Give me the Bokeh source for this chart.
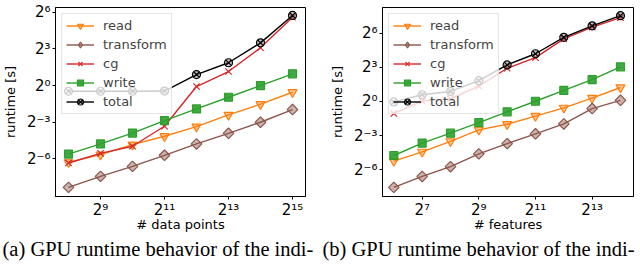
from bokeh.plotting import figure
from bokeh.models import Range1d, FixedTicker, Legend, LegendItem, Title
from bokeh.layouts import row
from bokeh.embed import file_html
from bokeh.resources import INLINE

# ---- data (runtime in seconds) ----
data_points = [256, 512, 1024, 2048, 4096, 8192, 16384, 32768]
a_read = [0.01269, 0.01964, 0.03468, 0.05594, 0.09672, 0.1882, 0.3464, 0.6830]
a_transform = [0.003065, 0.005719, 0.010097, 0.01897, 0.03615, 0.06606, 0.1241, 0.2553]
a_cg = [0.01226, 0.02120, 0.03169, 0.09875, 0.9461, 2.219, 8.574, 48.50]
a_write = [0.02033, 0.03615, 0.06699, 0.1358, 0.2643, 0.5141, 1.000, 1.945]
a_total = [0.7219, 0.7219, 0.7219, 0.7320, 1.866, 3.655, 11.31, 53.82]

features = [64, 128, 256, 512, 1024, 2048, 4096, 8192, 16384]
b_read = [0.02664, 0.04671, 0.08839, 0.1780, 0.2500, 0.4118, 0.6783, 1.231, 2.346]
b_transform = [0.005373, 0.010453, 0.01897, 0.04124, 0.07695, 0.1397, 0.2553, 0.6507, 1.072]
b_cg = [0.4830, 1.028, 1.181, 2.532, 7.568, 14.42, 44.94, 92.41, 164.3]
b_write = [0.03742, 0.07966, 0.1456, 0.2755, 0.5322, 1.014, 1.959, 3.784, 8.225]
b_total = [0.9727, 1.505, 1.840, 3.555, 9.254, 18.25, 49.52, 99.73, 184.8]

series_names = ["read", "transform", "cg", "write", "total"]

a_xticks = [512, 2048, 8192, 32768]
a_xtick_labels = ["2⁹", "2¹¹", "2¹³", "2¹⁵"]
b_xticks = [128, 512, 2048, 8192]
b_xtick_labels = ["2⁷", "2⁹", "2¹¹", "2¹³"]
yticks = [0.015625, 0.125, 1, 8, 64]
ytick_labels = ["2⁻⁶", "2⁻³", "2⁰", "2³", "2⁶"]

x_titles = ["# data points", "# features"]
y_title = "runtime [s]"
captions = ["(a) GPU runtime behavior of the indi-", "(b) GPU runtime behavior of the indi-"]

# ---- styles ----
STYLES = {
    "read": dict(color="#ff7f0e", marker="inverted_triangle", size=9, angle=0.0, fill_alpha=0.45,
                 fill_color="#ff7f0e", legend_marker=None),
    "transform": dict(color="#8c564b", marker="square", size=7.5, angle=0.7854, fill_alpha=0.45,
                      fill_color="#8c564b", legend_marker=("diamond", 11)),
    "cg": dict(color="#d62728", marker="x", size=9, angle=0.0, fill_alpha=1.0,
               fill_color="#d62728", legend_marker=None),
    "write": dict(color="#2ca02c", marker="square", size=8, angle=0.0, fill_alpha=0.9,
                  fill_color="#2ca02c", legend_marker=None),
    "total": dict(color="black", marker="circle_x", size=8, angle=0.0, fill_alpha=0.45,
                  fill_color="gray", legend_marker=None),
}
FONT = "DejaVu Sans"


def make_panel(xs, series, xticks, xlabels, xr, yr, xtitle, caption,
               b_left, b_right, b_top, cap_offset):
    p = figure(width=320, height=264, x_axis_type="log", y_axis_type="log",
               x_range=Range1d(*xr), y_range=Range1d(*yr),
               output_backend="svg", toolbar_location=None,
               min_border_left=b_left, min_border_right=b_right,
               min_border_top=b_top, min_border_bottom=68)
    p.grid.visible = False
    p.outline_line_color = "black"
    p.outline_line_width = 1
    p.background_fill_color = "white"
    p.border_fill_color = "white"

    p.xaxis.ticker = FixedTicker(ticks=xticks)
    p.xaxis.major_label_overrides = dict(zip(xticks, xlabels))
    p.yaxis.ticker = FixedTicker(ticks=yticks)
    p.yaxis.major_label_overrides = dict(zip(yticks, ytick_labels))
    for ax in (p.xaxis[0], p.yaxis[0]):
        ax.major_tick_out = 3
        ax.major_tick_in = 0
        ax.minor_tick_out = 0
        ax.minor_tick_in = 0
        ax.axis_line_color = "black"
        ax.major_tick_line_color = "black"
        ax.major_label_text_font = FONT
        ax.major_label_text_font_size = "15px"
        ax.major_label_text_color = "black"
        ax.axis_label_text_font = FONT
        ax.axis_label_text_font_size = "13px"
        ax.axis_label_text_font_style = "normal"
        ax.axis_label_text_color = "black"
    p.xaxis.major_label_standoff = 1
    p.xaxis.axis_label_standoff = -5
    p.yaxis.major_label_standoff = 2
    p.yaxis.axis_label_standoff = 6
    p.xaxis.axis_label = xtitle
    p.yaxis.axis_label = y_title

    items = []
    for name, ys in zip(series_names, series):
        st = STYLES[name]
        ln = p.line(xs, ys, line_color=st["color"], line_width=1.4)
        sc = p.scatter(xs, ys, marker=st["marker"], size=st["size"], angle=st["angle"],
                       line_color=st["color"], line_width=1.2,
                       fill_color=st["fill_color"], fill_alpha=st["fill_alpha"])
        rends = [ln, sc]
        if st["legend_marker"] is not None:
            mk, sz = st["legend_marker"]
            lg = p.scatter(xs[:1], ys[:1], marker=mk, size=sz,
                           line_color=st["color"], line_width=1.2,
                           fill_color=st["fill_color"], fill_alpha=st["fill_alpha"],
                           visible=False)
            rends = [ln, lg]
        items.append(LegendItem(label=name, renderers=rends))

    legend = Legend(items=items, location="top_left", margin=6, padding=4,
                    spacing=4, label_height=15, glyph_height=15, glyph_width=28,
                    label_standoff=9, label_text_font=FONT, label_text_font_size="13px",
                    border_line_color="#cccccc", border_line_width=1,
                    background_fill_alpha=0.8, click_policy="none")
    p.add_layout(legend, "center")

    p.add_layout(Title(text=caption, align="left", offset=cap_offset, standoff=2,
                       text_font="Liberation Serif", text_font_size="20.5px",
                       text_font_style="normal", text_color="black"), "below")
    return p


p1 = make_panel(data_points, [a_read, a_transform, a_cg, a_write, a_total],
                a_xticks, a_xtick_labels, (2 ** 7.594, 2 ** 15.406), (2 ** -9.1, 2 ** 6.4),
                x_titles[0], captions[0], 55, 15, 7, -53)
p2 = make_panel(features, [b_read, b_transform, b_cg, b_write, b_total],
                b_xticks, b_xtick_labels, (2 ** 5.6, 2 ** 14.46), (2 ** -8.34, 2 ** 8.25),
                x_titles[1], captions[1], 62, 7, 4, -60)

layout = row(p1, p2)
open("out.html", "w").write(file_html(layout, INLINE))
